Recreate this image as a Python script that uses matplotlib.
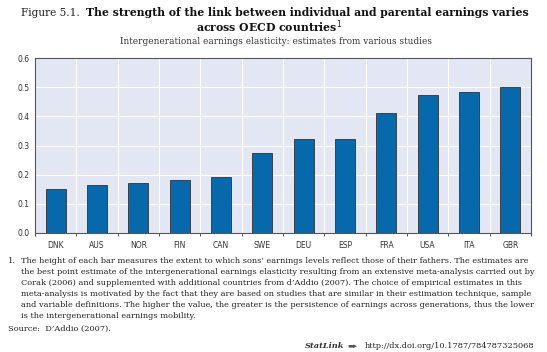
import numpy as np
import matplotlib.pyplot as plt

countries = ["DNK", "AUS", "NOR", "FIN", "CAN", "SWE", "DEU", "ESP", "FRA", "USA", "ITA", "GBR"]
elasticity = [0.15, 0.165, 0.172, 0.182, 0.192, 0.274, 0.322, 0.322, 0.412, 0.472, 0.482, 0.502]

TITLE_PREFIX = "Figure 5.1."
TITLE = "The strength of the link between individual and parental earnings varies"
TITLE_2 = "across OECD countries$^{1}$"
SUBTITLE = "Intergenerational earnings elasticity: estimates from various studies"
NOTE = [
    "The height of each bar measures the extent to which sons\u2019 earnings levels reflect those of their fathers. The estimates are",
    "the best point estimate of the intergenerational earnings elasticity resulting from an extensive meta-analysis carried out by",
    "Corak (2006) and supplemented with additional countries from d\u2019Addio (2007). The choice of empirical estimates in this",
    "meta-analysis is motivated by the fact that they are based on studies that are similar in their estimation technique, sample",
    "and variable definitions. The higher the value, the greater is the persistence of earnings across generations, thus the lower",
    "is the intergenerational earnings mobility.",
]
SOURCE = "Source:  D\u2019Addio (2007)."
STATLINK = "http://dx.doi.org/10.1787/784787325068"

BAR_COLOR = "#0868ac"
BG_COLOR = "#e2e7f3"
SERIF = "DejaVu Serif"
W, H = 547, 352

fig = plt.figure(figsize=(W / 100, H / 100), dpi=100)
renderer = fig.canvas.get_renderer()


def px(x, y):
    return x / W, 1 - y / H


def fit_text(x, y, s, width, size=7, **kw):
    # shrink / grow the font until the text covers the wanted pixel width
    t = fig.text(*px(x, y), s, fontsize=size, va="center", **kw)
    for _ in range(3):
        w = t.get_window_extent(renderer).width
        size = size * width / w
        t.set_fontsize(size)
    return t


ax = fig.add_axes([35 / W, 1 - 233 / H, (531 - 35) / W, (233 - 58) / H])

x = np.arange(len(countries))
ax.set_facecolor(BG_COLOR)
ax.bar(x, elasticity, width=0.48, color=BAR_COLOR, edgecolor="#333333", linewidth=0.6, zorder=3)

ax.set_xlim(-0.5, len(countries) - 0.5)
ax.set_ylim(0, 0.6)
ax.set_yticks(np.arange(0, 0.61, 0.1))
ax.set_yticklabels([f"{v:.1f}" for v in np.arange(0, 0.61, 0.1)], fontsize=5.5, color="#333333")
ax.set_xticks(x)
ax.set_xticklabels(countries, fontsize=5.5, color="#333333")
ax.tick_params(axis="x", length=0, pad=6)
ax.tick_params(axis="y", length=0, pad=4)
ax.set_xticks(np.arange(-0.5, len(countries), 1.0), minor=True)
ax.tick_params(axis="x", which="minor", length=2.5, direction="out", color="#333333")
ax.grid(axis="y", which="major", color="white", linewidth=0.8, zorder=0)
ax.grid(axis="x", which="minor", color="white", linewidth=0.8, zorder=0)
ax.grid(axis="x", which="major", visible=False)
for s in ax.spines.values():
    s.set_color("#555555")
    s.set_linewidth(0.8)

fit_text(21, 13, TITLE_PREFIX, 59, family=SERIF, color="#222222")
title = fit_text(86, 13, TITLE, 442, family=SERIF, weight="bold", color="#111111")
fig.text(*px(269, 27), TITLE_2, fontsize=title.get_fontsize(), family=SERIF,
         weight="bold", ha="center", va="center", color="#111111")
fit_text(120, 42, SUBTITLE, 307, family=SERIF, color="#333333")

num = fig.text(*px(8, 261), "1.", fontsize=6, family=SERIF, va="center", color="#222222")
note = fit_text(21, 261, NOTE[0], 508, family=SERIF, color="#222222")
fs = note.get_fontsize()
num.set_fontsize(fs)
for i, line in enumerate(NOTE[1:], start=1):
    fig.text(*px(21, 261 + i * 11.1), line, fontsize=fs, family=SERIF, va="center", color="#222222")
fig.text(*px(8, 329), SOURCE, fontsize=fs, family=SERIF, va="center", color="#222222")
fig.text(*px(534, 346), STATLINK, fontsize=fs, family=SERIF, ha="right", va="center", color="#222222")
fig.text(*px(344, 346), "StatLink", fontsize=fs, family=SERIF, style="italic",
         weight="bold", ha="right", va="center", color="#333333")
fig.text(*px(347, 346), "\u25ac\u25b8", fontsize=fs - 1, family=SERIF, ha="left", va="center", color="#555555")

fig.savefig("out.png", dpi=100)
